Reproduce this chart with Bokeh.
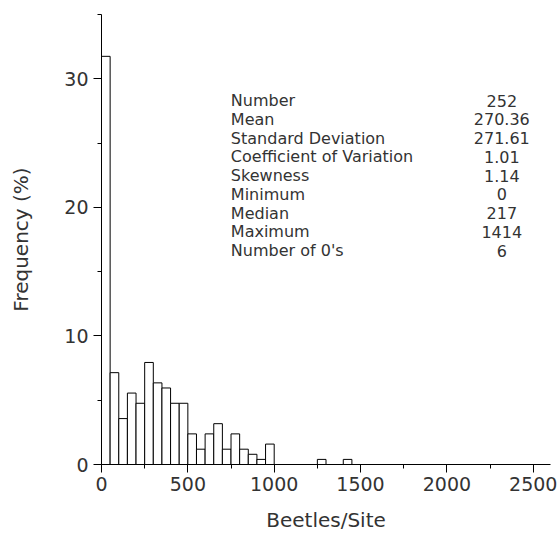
from bokeh.plotting import figure
from bokeh.models import SingleIntervalTicker, Range1d, ColumnDataSource
from bokeh.core.properties import value
from bokeh.embed import file_html
from bokeh.resources import INLINE

# ---- data ----
bin_width = 50
bin_starts = [0, 50, 100, 150, 200, 250, 300, 350, 400, 450,
              500, 550, 600, 650, 700, 750, 800, 850, 900, 950,
              1250, 1400]
bin_counts = [80, 18, 9, 14, 12, 20, 16, 15, 12, 12,
              6, 3, 6, 8, 3, 6, 3, 2, 1, 4,
              1, 1]
n_total = 252

stat_names = ["Number", "Mean", "Standard Deviation", "Coefficient of Variation",
              "Skewness", "Minimum", "Median", "Maximum", "Number of 0's"]
stat_values = ["252", "270.36", "271.61", "1.01", "1.14", "0", "217", "1414", "6"]

x_label = "Beetles/Site"
y_label = "Frequency (%)"

FONT = "DejaVu Sans"
TXT = "#333333"

percent = [c / n_total * 100 for c in bin_counts]
src = ColumnDataSource(dict(
    left=bin_starts,
    right=[s + bin_width for s in bin_starts],
    top=percent,
    bottom=[0] * len(bin_starts),
))

p = figure(width=559, height=537, output_backend="svg", toolbar_location=None,
           x_range=Range1d(0, 2600), y_range=Range1d(0, 35),
           min_border_left=101, min_border_right=9, min_border_top=14, min_border_bottom=73)
p.outline_line_color = None
p.xgrid.visible = False
p.ygrid.visible = False
p.background_fill_color = "white"
p.border_fill_color = "white"

p.quad(left="left", right="right", top="top", bottom="bottom", source=src,
       fill_color="white", line_color="black", line_width=1)

# axes
p.xaxis.ticker = SingleIntervalTicker(interval=500, num_minor_ticks=2)
p.yaxis.ticker = SingleIntervalTicker(interval=10, num_minor_ticks=2)
for ax in (p.xaxis[0], p.yaxis[0]):
    ax.axis_line_color = "black"
    ax.major_tick_line_color = "black"
    ax.minor_tick_line_color = "black"
    ax.major_tick_out = 8
    ax.major_tick_in = 0
    ax.minor_tick_out = 4
    ax.minor_tick_in = 0
    ax.major_label_text_font = FONT
    ax.major_label_text_font_size = "19px"
    ax.major_label_text_color = TXT
    ax.axis_label_text_font = FONT
    ax.axis_label_text_font_size = "20px"
    ax.axis_label_text_font_style = "normal"
    ax.axis_label_text_color = TXT
p.xaxis.axis_label = x_label
p.yaxis.axis_label = y_label
p.xaxis.major_label_standoff = 4
p.yaxis.major_label_standoff = 5
p.xaxis.axis_label_standoff = 14
p.yaxis.axis_label_standoff = 28

# statistics block
top_y = 28.3
step = 1.457
ys = [top_y - i * step for i in range(len(stat_names))]
p.text(x=[749] * len(stat_names), y=ys, text=stat_names,
       text_font=value(FONT), text_font_size="16px", text_color=TXT,
       text_align="left", text_baseline="middle")
p.text(x=[2318] * len(stat_values), y=ys, text=stat_values,
       text_font=value(FONT), text_font_size="16px", text_color=TXT,
       text_align="center", text_baseline="middle")

open("out.html", "w").write(file_html(p, INLINE))
